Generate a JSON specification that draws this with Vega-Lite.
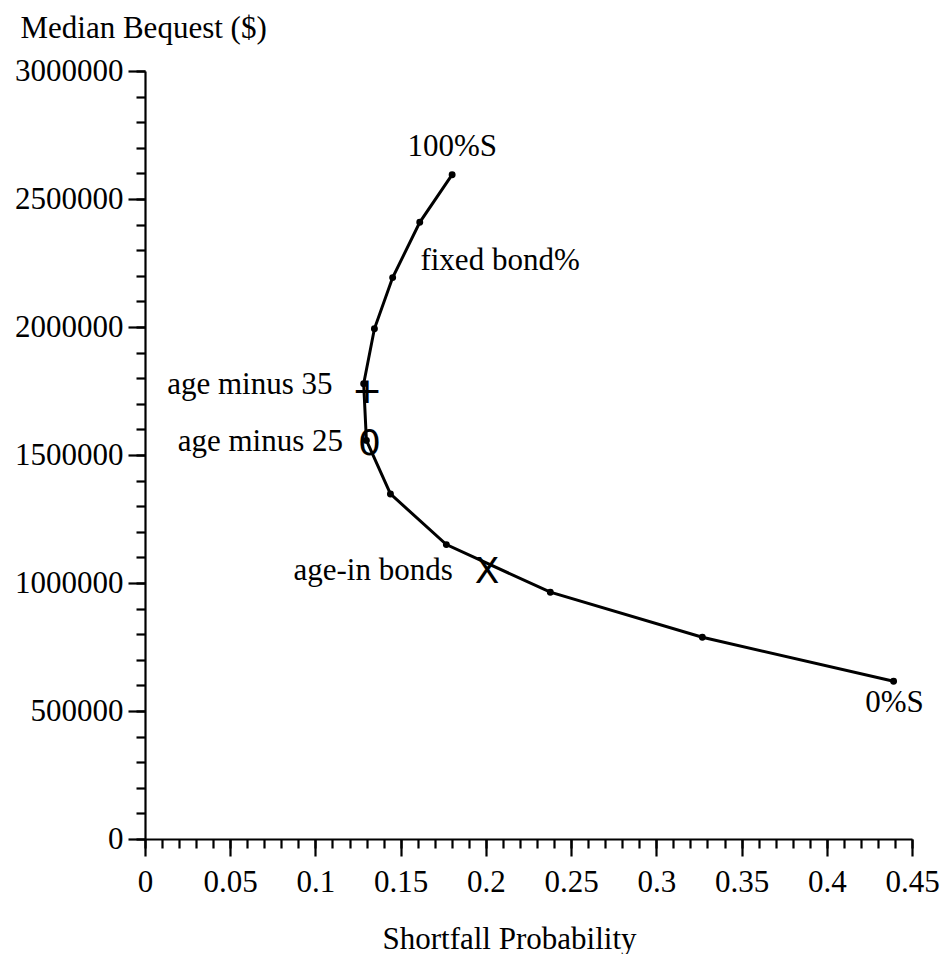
{
  "$schema": "https://vega.github.io/schema/vega-lite/v6.json",
  "width": 767,
  "height": 768,
  "autosize": "none",
  "padding": {"left": 145, "top": 71, "right": 34, "bottom": 115},
  "background": "white",
  "config": {
    "view": {"stroke": null},
    "font": "Liberation Serif",
    "axis": {
      "domainColor": "black",
      "domainWidth": 2.2,
      "tickColor": "black",
      "tickWidth": 2.2,
      "grid": false,
      "labelFont": "Liberation Serif",
      "labelFontSize": 31,
      "labelColor": "black",
      "titleFont": "Liberation Serif",
      "titleFontSize": 31,
      "titleFontWeight": "normal",
      "titleColor": "black",
      "labelOverlap": false,
      "labelFlush": false
    }
  },
  "datasets": {
    "curve": [
      {"stock_pct": 100, "shortfall": 0.1802, "bequest": 2595000},
      {"stock_pct": 90, "shortfall": 0.1612, "bequest": 2409000},
      {"stock_pct": 80, "shortfall": 0.1453, "bequest": 2193000},
      {"stock_pct": 70, "shortfall": 0.1346, "bequest": 1993000},
      {"stock_pct": 60, "shortfall": 0.1283, "bequest": 1778000},
      {"stock_pct": 50, "shortfall": 0.1299, "bequest": 1557000},
      {"stock_pct": 40, "shortfall": 0.1440, "bequest": 1348000},
      {"stock_pct": 30, "shortfall": 0.1768, "bequest": 1150000},
      {"stock_pct": 20, "shortfall": 0.2378, "bequest": 964000},
      {"stock_pct": 10, "shortfall": 0.3270, "bequest": 788000},
      {"stock_pct": 0, "shortfall": 0.4392, "bequest": 616000}
    ],
    "markers": [
      {"strategy": "age minus 35", "symbol": "+", "shortfall": 0.1303, "bequest": 1752000},
      {"strategy": "age minus 25", "symbol": "0", "shortfall": 0.1317, "bequest": 1550000},
      {"strategy": "age-in bonds", "symbol": "X", "shortfall": 0.2007, "bequest": 1049000}
    ],
    "labels": [
      {"label": "100%S", "shortfall": 0.154, "bequest": 2667000},
      {"label": "fixed bond%", "shortfall": 0.1616, "bequest": 2221000},
      {"label": "age minus 35", "shortfall": 0.013, "bequest": 1739000},
      {"label": "age minus 25", "shortfall": 0.0192, "bequest": 1515000},
      {"label": "age-in bonds", "shortfall": 0.0871, "bequest": 1010000},
      {"label": "0%S", "shortfall": 0.4226, "bequest": 495000}
    ]
  },
  "resolve": {"axis": {"x": "independent", "y": "independent"}},
  "layer": [
    {
      "data": {"name": "curve"},
      "mark": {"type": "line", "color": "black", "strokeWidth": 3},
      "encoding": {
        "x": {
          "field": "shortfall", "type": "quantitative",
          "scale": {"domain": [0, 0.45], "nice": false, "zero": false},
          "axis": {
            "orient": "bottom",
            "values": [0, 0.05, 0.1, 0.15, 0.2, 0.25, 0.3, 0.35, 0.4, 0.45],
            "format": "~g",
            "tickSize": 17,
            "labelPadding": 11,
            "title": "Shortfall Probability",
            "titleX": 364,
            "titleY": 109,
            "titleAlign": "center",
            "titleBaseline": "alphabetic",
            "titleAngle": 0
          }
        },
        "y": {
          "field": "bequest", "type": "quantitative",
          "scale": {"domain": [0, 3000000], "nice": false, "zero": false},
          "axis": {
            "orient": "left",
            "values": [0, 500000, 1000000, 1500000, 2000000, 2500000, 3000000],
            "format": "d",
            "tickSize": 17,
            "labelPadding": 5,
            "title": "Median Bequest ($)",
            "titleAngle": 0,
            "titleAlign": "left",
            "titleBaseline": "alphabetic",
            "titleX": -125,
            "titleY": -34
          }
        },
        "order": {"field": "stock_pct", "type": "quantitative", "sort": "descending"}
      }
    },
    {
      "data": {"name": "curve"},
      "mark": {"type": "circle", "color": "black", "opacity": 1, "size": 48},
      "encoding": {
        "x": {
          "field": "shortfall", "type": "quantitative",
          "scale": {"domain": [0, 0.45], "nice": false, "zero": false},
          "axis": {
            "orient": "bottom",
            "values": [0, 0.01, 0.02, 0.03, 0.04, 0.05, 0.06, 0.07, 0.08, 0.09, 0.1, 0.11, 0.12, 0.13, 0.14, 0.15, 0.16, 0.17, 0.18, 0.19, 0.2, 0.21, 0.22, 0.23, 0.24, 0.25, 0.26, 0.27, 0.28, 0.29, 0.3, 0.31, 0.32, 0.33, 0.34, 0.35, 0.36, 0.37, 0.38, 0.39, 0.4, 0.41, 0.42, 0.43, 0.44, 0.45],
            "tickSize": 9,
            "labels": false,
            "domain": false,
            "title": null
          }
        },
        "y": {
          "field": "bequest", "type": "quantitative",
          "scale": {"domain": [0, 3000000], "nice": false, "zero": false},
          "axis": {
            "orient": "left",
            "values": [0, 100000, 200000, 300000, 400000, 500000, 600000, 700000, 800000, 900000, 1000000, 1100000, 1200000, 1300000, 1400000, 1500000, 1600000, 1700000, 1800000, 1900000, 2000000, 2100000, 2200000, 2300000, 2400000, 2500000, 2600000, 2700000, 2800000, 2900000, 3000000],
            "tickSize": 9,
            "labels": false,
            "domain": false,
            "title": null
          }
        }
      }
    },
    {
      "data": {"name": "markers"},
      "mark": {"type": "text", "font": "DejaVu Sans", "fontSize": 36, "color": "black", "align": "center", "baseline": "middle", "dy": 2},
      "encoding": {
        "x": {"field": "shortfall", "type": "quantitative", "scale": {"domain": [0, 0.45], "nice": false, "zero": false}, "axis": null},
        "y": {"field": "bequest", "type": "quantitative", "scale": {"domain": [0, 3000000], "nice": false, "zero": false}, "axis": null},
        "text": {"field": "symbol"}
      }
    },
    {
      "data": {"name": "labels"},
      "mark": {"type": "text", "font": "Liberation Serif", "fontSize": 31, "color": "black", "align": "left", "baseline": "alphabetic"},
      "encoding": {
        "x": {"field": "shortfall", "type": "quantitative", "scale": {"domain": [0, 0.45], "nice": false, "zero": false}, "axis": null},
        "y": {"field": "bequest", "type": "quantitative", "scale": {"domain": [0, 3000000], "nice": false, "zero": false}, "axis": null},
        "text": {"field": "label"}
      }
    }
  ]
}
